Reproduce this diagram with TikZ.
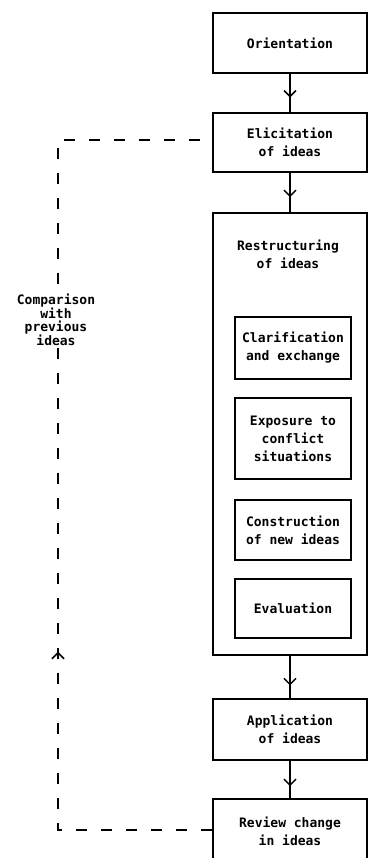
\documentclass[tikz,border=0pt]{standalone}
\usepackage{fontspec}
\newfontfamily\boxfont{DejaVu Sans Mono}[Scale=1.0]
\usetikzlibrary{arrows.meta,decorations.markings}
\tikzset{
  box/.style={draw,line width=1.8pt,minimum width=154pt,inner sep=0pt,align=center,
    font=\boxfont\bfseries\fontsize{13}{18}\selectfont},
  inbox/.style={box,minimum width=116pt},
  txt/.style={align=center,font=\boxfont\bfseries\fontsize{13}{18}\selectfont,inner sep=1pt},
  flow/.style={line width=1.8pt,postaction={decorate},
    decoration={markings,mark=at position #1 with {\arrow[line width=1.5pt]{Straight Barb[length=6pt,width=12pt]}}}},
  loop/.style={line width=1.8pt,dash pattern=on 11pt off 14pt,postaction={decorate},
    decoration={markings,mark=at position 0.333 with {\arrow[solid,line width=1.5pt]{Straight Barb[length=6pt,width=12pt]}}}},
}
\begin{document}
\begin{tikzpicture}[x=1pt,y=-1pt]
\useasboundingbox (0,0) rectangle (368,858);
\clip (0,0) rectangle (368,858);
\node[box,minimum height=60pt] (orient) at (290,43) {Orientation};
\node[box,minimum height=59pt] (elic) at (290,142.5) {Elicitation\\of ideas};
\node[box,minimum height=442pt] (restr) at (290,434) {};
\node[txt] (restrlabel) at (288,254) {Restructuring\\of ideas};
\node[inbox,minimum height=62pt] (clar) at (293,348) {Clarification\\and exchange};
\node[inbox,minimum height=81pt] (expo) at (293,438.5) {Exposure to\\conflict\\situations};
\node[inbox,minimum height=60pt] (constr) at (293,530) {Construction\\of new ideas};
\node[inbox,minimum height=59pt] (eval) at (293,608.5) {Evaluation};
\node[box,minimum height=61pt] (appl) at (290,729.5) {Application\\of ideas};
\node[box,minimum height=64pt] (review) at (290,831) {Review change\\in ideas};
\draw[flow=0.62] (orient) -- (elic);
\draw[flow=0.62] (elic) -- (restr);
\draw[flow=0.7] (restr) -- (appl);
\draw[flow=0.68] (appl) -- (review);
\coordinate (c1) at (58,830);
\coordinate (c2) at (58,140);
\draw[loop] (review.west |- c1) -- (c1) -- (c2) -- (elic.west |- c2);
\node[txt,fill=white,font=\boxfont\bfseries\fontsize{13}{12.5}\selectfont] (cmp) at (56,320) {Comparison\\with\\previous\\ideas};
\end{tikzpicture}
\end{document}
